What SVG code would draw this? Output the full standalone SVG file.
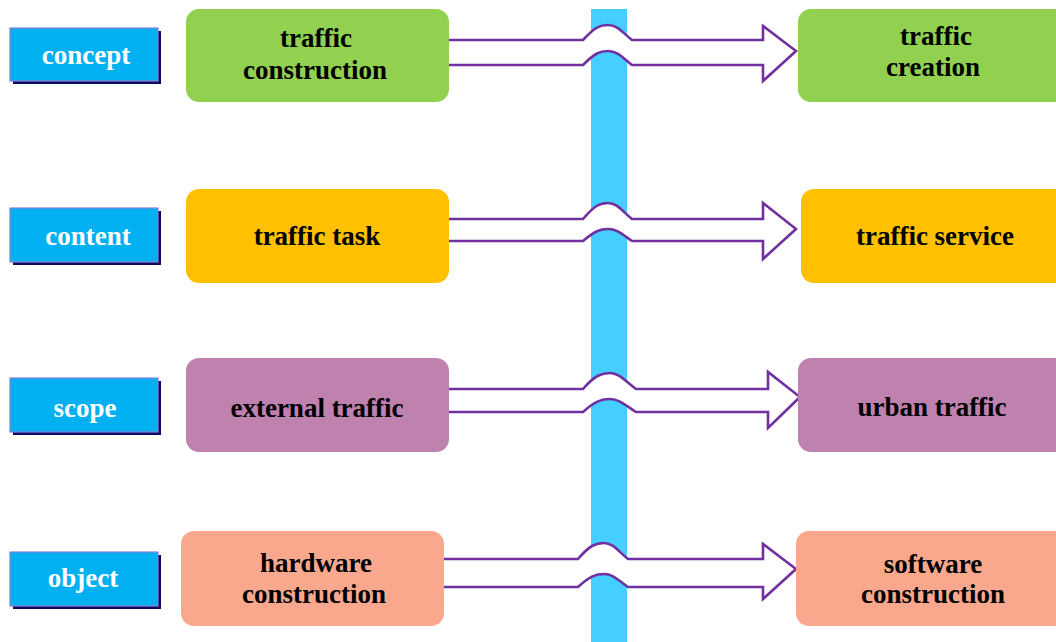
<svg xmlns="http://www.w3.org/2000/svg" width="1056" height="642" viewBox="0 0 1056 642">
  <style>
    .lbl rect.face { fill: #00b0f0; stroke: #8c80d8; stroke-width: 1.2; }
    .lbl rect.shade { fill: #0a0a60; }
    .lbl text { font-weight: bold; font-size: 27px; fill: #ffffff; text-anchor: middle; }
    .node text { font-weight: bold; font-size: 27px; fill: #000000; text-anchor: middle; }
    .green { fill: #92d050; }
    .amber { fill: #ffc000; }
    .mauve { fill: #bf81ae; }
    .salmon { fill: #f9a88e; }
    .flow { fill: #ffffff; stroke: #7030a0; stroke-width: 2.6; stroke-linejoin: miter; }
  </style>

  <rect width="1056" height="642" fill="#ffffff"/>

  <!-- vertical divider band -->
  <rect id="band" x="591" y="9" width="36" height="633" fill="#45cfff"/>

  <!-- row labels -->
  <g id="labels" font-family="Liberation Serif, Times New Roman, serif">
    <g id="label-concept" class="lbl">
      <rect class="shade" x="13" y="31" width="148" height="53"/>
      <rect class="face" x="10" y="28" width="148" height="53"/>
      <text x="86" y="64">concept</text>
    </g>
    <g id="label-content" class="lbl">
      <rect class="shade" x="13" y="211" width="148" height="54"/>
      <rect class="face" x="10" y="208" width="148" height="54"/>
      <text x="88" y="245">content</text>
    </g>
    <g id="label-scope" class="lbl">
      <rect class="shade" x="13" y="381" width="148" height="54"/>
      <rect class="face" x="10" y="378" width="148" height="54"/>
      <text x="85" y="417">scope</text>
    </g>
    <g id="label-object" class="lbl">
      <rect class="shade" x="13" y="555" width="148" height="54"/>
      <rect class="face" x="10" y="552" width="148" height="54"/>
      <text x="83" y="587">object</text>
    </g>
  </g>

  <!-- connectors: hollow double-line arrows hopping over the band -->
  <g id="connectors">
    <path class="flow" d="M449,40 L583,40 C595,27 600,25 608,25 C617,25 622,32 632,40 L763,40 L763,26 L796,51 L763,81 L763,65 L632,65 C622,57 617,51 608,51 C600,51 595,53 583,65 L449,65"/>
    <path class="flow" d="M449,219 L583,219 C595,205 600,203 608,203 C617,203 622,211 632,219 L763,219 L763,203 L796,229 L763,259 L763,241 L632,241 C622,234 617,229 608,229 C600,229 595,231 583,241 L449,241"/>
    <path class="flow" d="M449,389 L583,389 C595,375 602,373 610,373 C619,373 625,381 636,389 L768,389 L768,372 L800,397 L768,428 L768,412 L636,412 C625,405 619,399 610,399 C602,399 595,401 583,412 L449,412"/>
    <path class="flow" d="M443,559 L578,559 C590,545 596,543 604,543 C613,543 618,551 628,559 L763,559 L763,544 L796,569 L763,599 L763,587 L628,587 C618,580 613,574 604,574 C596,574 590,576 578,587 L443,587"/>
  </g>

  <g id="nodes" font-family="Liberation Serif, Times New Roman, serif">
    <!-- left nodes -->
    <g id="node-traffic-construction" class="node">
      <rect class="green" x="186" y="9" width="263" height="93" rx="13"/>
      <text x="316" y="47">traffic</text>
      <text x="315" y="79">construction</text>
    </g>
    <g id="node-traffic-task" class="node">
      <rect class="amber" x="186" y="189" width="263" height="94" rx="13"/>
      <text x="317" y="245">traffic task</text>
    </g>
    <g id="node-external-traffic" class="node">
      <rect class="mauve" x="186" y="358" width="263" height="94" rx="13"/>
      <text x="317" y="417">external traffic</text>
    </g>
    <g id="node-hardware-construction" class="node">
      <rect class="salmon" x="181" y="531" width="263" height="95" rx="13"/>
      <text x="316" y="572">hardware</text>
      <text x="314" y="603">construction</text>
    </g>

    <!-- right nodes -->
    <g id="node-traffic-creation" class="node">
      <rect class="green" x="798" y="9" width="272" height="93" rx="13"/>
      <text x="936" y="45">traffic</text>
      <text x="933" y="76">creation</text>
    </g>
    <g id="node-traffic-service" class="node">
      <rect class="amber" x="801" y="189" width="270" height="94" rx="13"/>
      <text x="935" y="245">traffic service</text>
    </g>
    <g id="node-urban-traffic" class="node">
      <rect class="mauve" x="798" y="358" width="272" height="94" rx="13"/>
      <text x="932" y="416">urban traffic</text>
    </g>
    <g id="node-software-construction" class="node">
      <rect class="salmon" x="796" y="531" width="274" height="95" rx="13"/>
      <text x="933" y="573">software</text>
      <text x="933" y="603">construction</text>
    </g>
  </g>
</svg>
